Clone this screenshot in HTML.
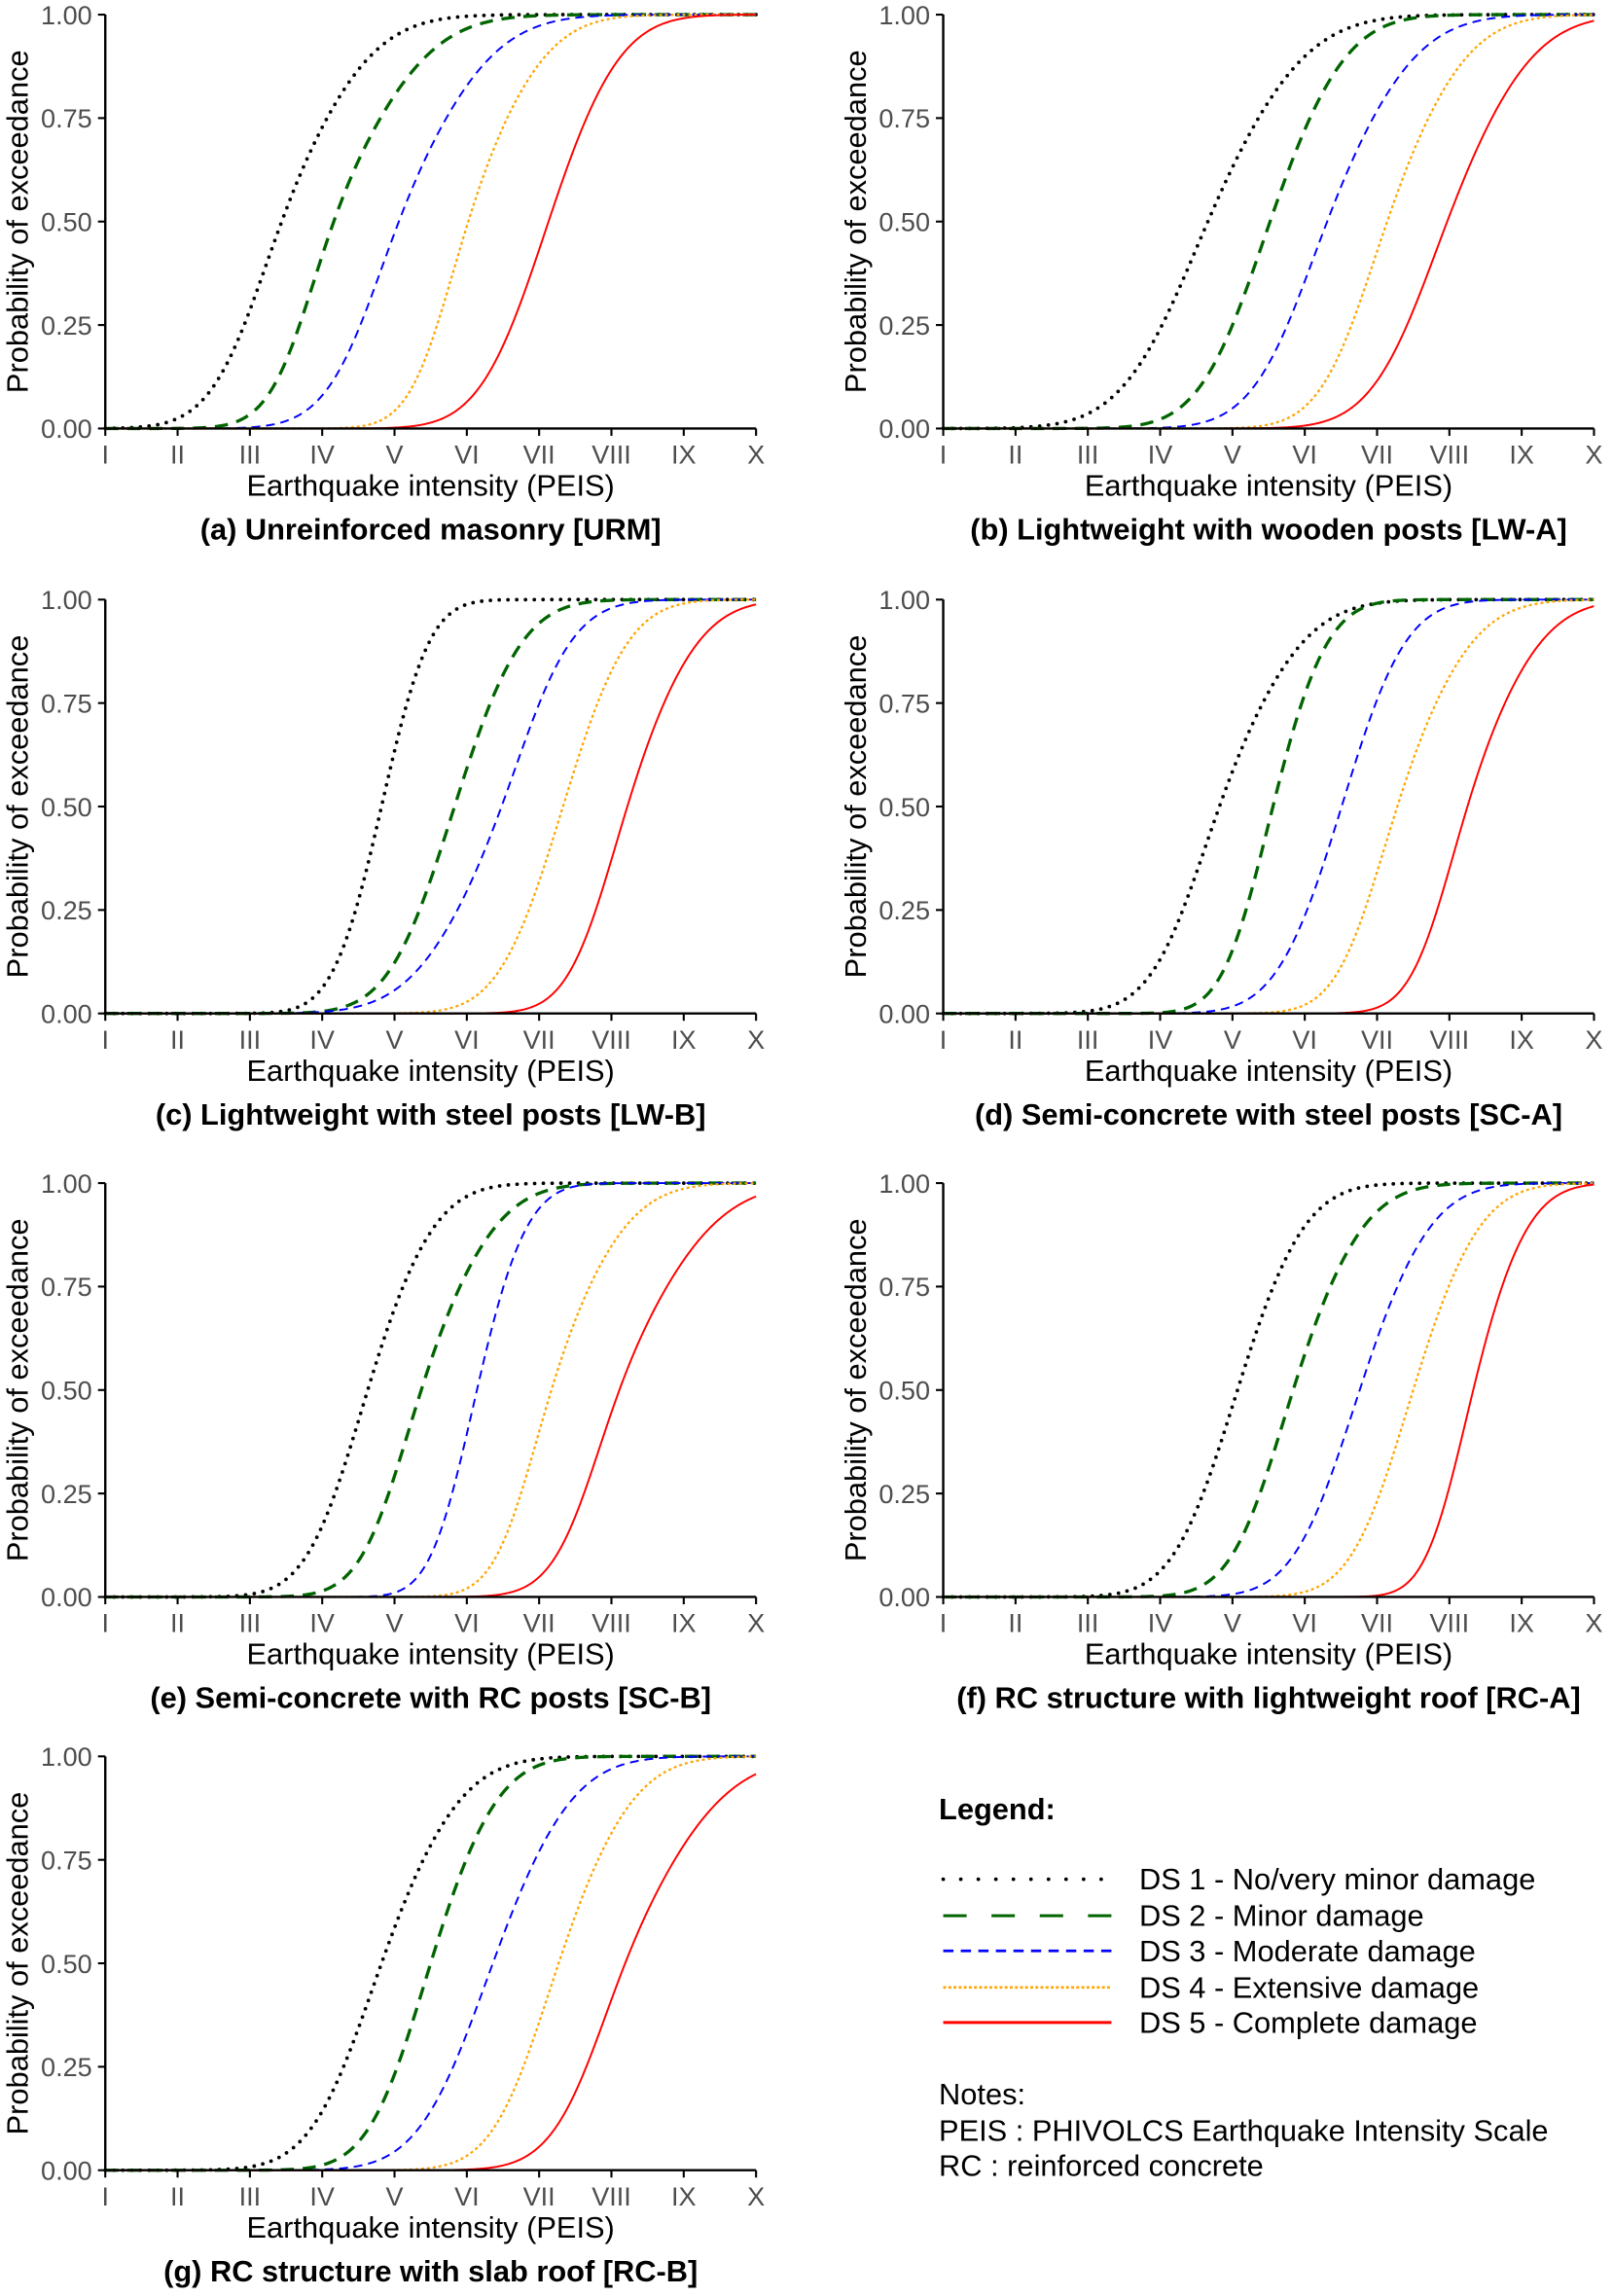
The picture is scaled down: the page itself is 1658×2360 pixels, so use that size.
<!DOCTYPE html>
<html><head><meta charset="utf-8"><style>
html,body{margin:0;padding:0;background:#fff}
svg{display:block}
text{font-family:"Liberation Sans",sans-serif}
</style></head><body>
<svg id="s" xmlns="http://www.w3.org/2000/svg" width="1658" height="2360" viewBox="0 0 1103 1570">
<g id="plots"></g>
<text x="642" y="1244" font-size="20.5" font-weight="bold">Legend:</text>
<line x1="645" y1="1285" x2="760" y2="1285" stroke="#000" stroke-width="2.5" stroke-dasharray="0 12" stroke-linecap="round"/>
<line x1="645" y1="1310" x2="760" y2="1310" stroke="#006400" stroke-width="2" stroke-dasharray="16 17"/>
<line x1="645" y1="1334" x2="760" y2="1334" stroke="#0000ff" stroke-width="1.8" stroke-dasharray="7 5"/>
<line x1="645" y1="1359" x2="760" y2="1359" stroke="#ffa500" stroke-width="1.8" stroke-dasharray="2 1.5"/>
<line x1="645" y1="1383" x2="760" y2="1383" stroke="#ff0000" stroke-width="2"/>
<g font-size="20.5">
<text x="779" y="1292">DS 1 - No/very minor damage</text>
<text x="779" y="1317">DS 2 - Minor damage</text>
<text x="779" y="1341">DS 3 - Moderate damage</text>
<text x="779" y="1366">DS 4 - Extensive damage</text>
<text x="779" y="1390">DS 5 - Complete damage</text>
<text x="642" y="1439">Notes:</text>
<text x="642" y="1464">PEIS : PHIVOLCS Earthquake Intensity Scale</text>
<text x="642" y="1488">RC : reinforced concrete</text>
</g>
</svg>
<script>
var NS="http://www.w3.org/2000/svg";
var P=[
 {x0:72,top:10,t:"(a) Unreinforced masonry [URM]",c:[[2.95,3.44,4.09],[3.74,4.16,4.84],[4.56,5.06,5.74],[5.63,6.02,6.59],[6.63,7.13,7.66]]},
 {x0:645,top:10,t:"(b) Lightweight with wooden posts [LW-A]",c:[[4.04,4.66,5.37],[5.01,5.52,6.08],[5.78,6.31,6.96],[6.67,7.14,7.73],[7.43,7.97,8.60]]},
 {x0:72,top:410,t:"(c) Lightweight with steel posts [LW-B]",c:[[4.46,4.82,5.17],[5.35,5.83,6.33],[5.85,6.48,6.98],[6.86,7.33,7.81],[7.81,8.22,8.75]]},
 {x0:645,top:410,t:"(d) Semi-concrete with steel posts [SC-A]",c:[[4.34,4.82,5.44],[5.20,5.56,5.97],[6.03,6.51,6.98],[6.86,7.28,7.84],[7.87,8.25,8.80]]},
 {x0:72,top:809,t:"(e) Semi-concrete with RC posts [SC-B]",c:[[4.19,4.63,5.13],[4.95,5.37,5.93],[5.81,6.14,6.52],[6.79,7.17,7.73],[7.67,8.11,8.80]]},
 {x0:645,top:809,t:"(f) RC structure with lightweight roof [RC-A]",c:[[4.60,5.07,5.57],[5.40,5.84,6.37],[6.28,6.76,7.29],[7.05,7.50,8.00],[8.00,8.33,8.75]]},
 {x0:72,top:1201,t:"(g) RC structure with slab roof [RC-B]",c:[[4.31,4.82,5.41],[5.05,5.50,6.00],[5.82,6.36,6.95],[6.80,7.27,7.83],[7.69,8.19,8.90]]}
];
var ST=[
 {c:"#000",w:2.5,d:"0 6",cap:"round"},
 {c:"#006400",w:2.2,d:"9 6"},
 {c:"#0000ff",w:1.3,d:"6 4"},
 {c:"#ffa500",w:1.5,d:"2 2"},
 {c:"#ff0000",w:1.3,d:null}
];
function erf(x){var s=x<0?-1:1;x=Math.abs(x);var t=1/(1+0.3275911*x);var y=1-(((((1.061405429*t-1.453152027)*t)+1.421413741)*t-0.284496736)*t+0.254829592)*t*Math.exp(-x*x);return s*y;}
function Phi(z){return 0.5*(1+erf(z/Math.SQRT2));}
var g=document.getElementById("plots");
function el(n,a,txt){var e=document.createElementNS(NS,n);for(var k in a)e.setAttribute(k,a[k]);if(txt!=null)e.textContent=txt;g.appendChild(e);return e;}
var R=["I","II","III","IV","V","VI","VII","VIII","IX","X"];
P.forEach(function(p){
 var x0=p.x0,x1=x0+445,top=p.top,bot=top+283,H=283,sp=445/9;
 function X(i){return x0+(i-1)*sp;}
 function Y(v){return bot-v*H;}
 p.c.forEach(function(c,k){
  var sl=(c[1]-c[0])/0.674,sh=(c[2]-c[1])/0.674,d="";
  for(var i=0;i<=450;i++){var xi=1+9*i/450;
   var s=sl+(sh-sl)/(1+Math.exp(-(xi-c[1])/0.35));
   var v=Phi((xi-c[1])/s);
   d+=(i?"L":"M")+X(xi).toFixed(2)+","+Y(v).toFixed(2);}
  var st=ST[k];var a={d:d,fill:"none",stroke:st.c,"stroke-width":st.w};
  if(st.d)a["stroke-dasharray"]=st.d;if(st.cap)a["stroke-linecap"]=st.cap;
  el("path",a);
 });
 el("line",{x1:x0,y1:top,x2:x0,y2:bot,stroke:"#000","stroke-width":1.6});
 el("line",{x1:x0,y1:bot,x2:x1,y2:bot,stroke:"#000","stroke-width":1.6});
 [0,0.25,0.5,0.75,1].forEach(function(v){
  el("line",{x1:x0-5,y1:Y(v),x2:x0,y2:Y(v),stroke:"#000","stroke-width":1.4});
  el("text",{x:x0-9,y:Y(v)+6.5,"font-size":18,fill:"#4d4d4d","text-anchor":"end"},v.toFixed(2));
 });
 for(var i=1;i<=10;i++){
  el("line",{x1:X(i),y1:bot,x2:X(i),y2:bot+5,stroke:"#000","stroke-width":1.4});
  el("text",{x:X(i),y:bot+24,"font-size":18,fill:"#4d4d4d","text-anchor":"middle"},R[i-1]);
 }
 el("text",{x:(x0+x1)/2,y:bot+46,"font-size":20.5,"text-anchor":"middle"},"Earthquake intensity (PEIS)");
 el("text",{x:(x0+x1)/2,y:bot+76,"font-size":20.5,"font-weight":"bold","text-anchor":"middle"},p.t);
 el("text",{x:0,y:0,"font-size":20.5,"text-anchor":"middle",transform:"translate("+(x0-53)+","+((top+bot)/2)+") rotate(-90)"},"Probability of exceedance");
});
</script>
</body></html>
